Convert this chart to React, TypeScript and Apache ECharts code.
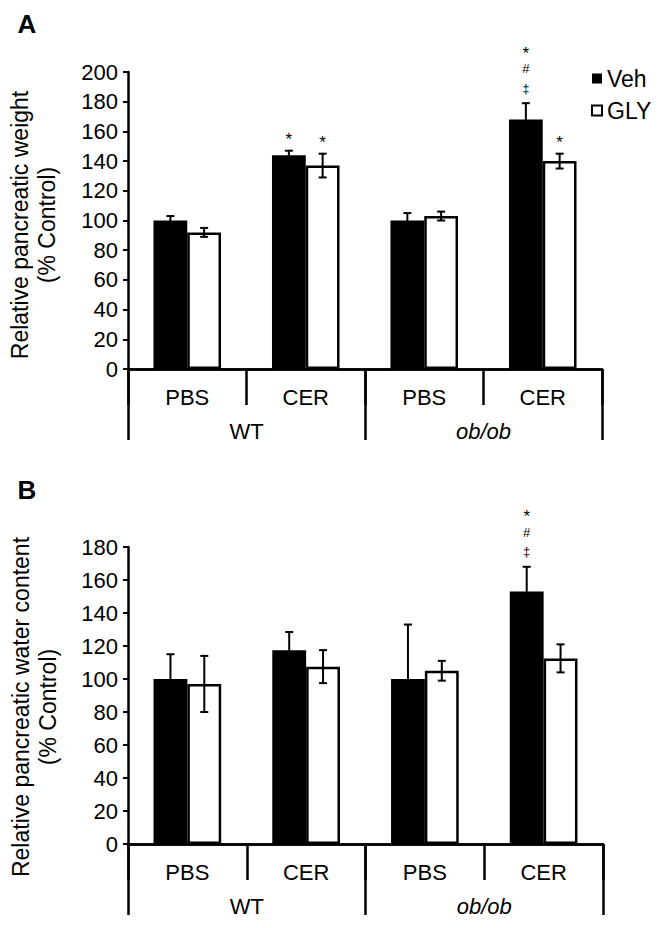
import React, { useEffect, useRef } from 'react';
import * as echarts from 'echarts';

// ---------- data ----------
const categories = ['PBS', 'CER', 'PBS', 'CER'];
const groups = ['WT', 'ob/ob'];

const weightVeh = [100, 144, 100, 168];
const weightVehErr = [3, 3, 5, 11];
const weightGly = [92, 137, 103, 140];
const weightGlyErr = [3, 8, 3, 5];
const weightVehNotes = ['', '*', '', '*\n#\n‡'];
const weightGlyNotes = ['', '*', '', '*'];

const waterVeh = [100, 117.5, 100, 153];
const waterVehErr = [15, 11, 33, 15];
const waterGly = [97, 107.5, 105, 112.5];
const waterGlyErr = [17, 10, 6, 8.5];
const waterVehNotes = ['', '', '', '*\n#\n‡'];
const waterGlyNotes = ['', '', '', ''];

const FONT = '"Liberation Sans", Arial, Helvetica, sans-serif';
const GAP = 0.43;

function errorSeries(gridIdx: number, values: number[], errs: number[], notes: string[], side: number) {
  return {
    type: 'custom',
    xAxisIndex: gridIdx * 2,
    yAxisIndex: gridIdx,
    silent: true,
    z: 5,
    itemStyle: { color: '#000' },
    data: values.map((v, i) => [i, v, errs[i]]),
    renderItem: (params: any, api: any) => {
      const i = api.value(0);
      const v = api.value(1);
      const e = api.value(2);
      const band = api.size([1, 0])[0];
      const barW = (band * (1 - GAP)) / 2;
      const cx = api.coord([i, v])[0] + (side * barW) / 2;
      const yTop = api.coord([i, v + e])[1];
      const yBot = api.coord([i, v - e])[1];
      const cap = 4;
      const ls = { stroke: '#000', lineWidth: 2 };
      const children: any[] = [
        { type: 'line', shape: { x1: cx, y1: yTop, x2: cx, y2: yBot }, style: ls },
        { type: 'line', shape: { x1: cx - cap, y1: yTop, x2: cx + cap, y2: yTop }, style: ls },
        { type: 'line', shape: { x1: cx - cap, y1: yBot, x2: cx + cap, y2: yBot }, style: ls },
      ];
      const note = notes[params.dataIndex];
      if (note) {
        const lines = note.split('\n').reverse();
        lines.forEach((t, k) => {
          const star = t === '*';
          children.push({
            type: 'text',
            x: cx,
            y: yTop - 15 - k * 19.5 + (star ? 4 : 0),
            style: {
              text: t,
              fontSize: star ? 17 : 13,
              fontFamily: FONT,
              fill: '#000',
              textFill: '#000',
              align: 'center',
              verticalAlign: 'middle',
            },
          });
        });
      }
      return { type: 'group', children };
    },
  };
}

function xAxes(gridIdx: number) {
  const line = { show: true, lineStyle: { color: '#000', width: 2.5 } };
  return [
    {
      gridIndex: gridIdx,
      type: 'category',
      position: 'bottom',
      data: categories,
      axisLine: line,
      axisTick: { show: true, interval: 0, length: 36, lineStyle: { color: '#000', width: 2.5 } },
      axisLabel: { interval: 0, margin: 17, fontSize: 22, fontFamily: FONT, color: '#000' },
      splitLine: { show: false },
    },
    {
      gridIndex: gridIdx,
      type: 'category',
      position: 'bottom',
      data: groups,
      axisLine: line,
      axisTick: { show: true, interval: 0, length: 71, lineStyle: { color: '#000', width: 2.5 } },
      axisLabel: {
        interval: 0,
        margin: 51,
        fontSize: 22,
        fontFamily: FONT,
        color: '#000',
        formatter: (v: string) => (v === 'ob/ob' ? '{i|' + v + '}' : v),
        rich: { i: { fontStyle: 'italic', fontSize: 22, fontFamily: FONT, color: '#000' } },
      },
      splitLine: { show: false },
    },
  ];
}

function yAxis(gridIdx: number, max: number) {
  return {
    gridIndex: gridIdx,
    type: 'value',
    min: 0,
    max,
    interval: 20,
    axisLine: { show: true, lineStyle: { color: '#000', width: 2.5 } },
    axisTick: { show: true, length: 5, lineStyle: { color: '#000', width: 2 } },
    axisLabel: { margin: 10, fontSize: 22, fontFamily: FONT, color: '#000' },
    splitLine: { show: false },
  };
}

function barSeries(gridIdx: number, name: string, data: number[], fill: string) {
  return {
    name,
    type: 'bar',
    xAxisIndex: gridIdx * 2,
    yAxisIndex: gridIdx,
    data,
    barGap: '0%',
    barCategoryGap: GAP * 100 + '%',
    itemStyle: { color: fill, borderColor: '#000', borderWidth: 2.5 },
    z: 2,
  };
}

export default function App() {
  const ref = useRef<HTMLDivElement>(null);
  useEffect(() => {
    if (!ref.current) return;
    const chart = echarts.init(ref.current, null, { renderer: 'svg' });
    chart.setOption({
      animation: false,
      backgroundColor: '#fff',
      grid: [
        { left: 128, top: 72, width: 474, height: 297 },
        { left: 128, top: 547, width: 475, height: 297 },
      ],
      xAxis: [...xAxes(0), ...xAxes(1)],
      yAxis: [yAxis(0, 200), yAxis(1, 180)],
      legend: {
        data: [
          { name: 'Veh', icon: 'rect', itemStyle: { color: '#000', borderColor: '#000', borderWidth: 0 } },
          { name: 'GLY', icon: 'rect', itemStyle: { color: '#fff', borderColor: '#000', borderWidth: 2 } },
        ],
        orient: 'vertical',
        left: 591,
        top: 67,
        padding: 0,
        itemWidth: 10,
        itemHeight: 10,
        itemGap: 9,
        selectedMode: false,
        textStyle: { fontSize: 23, fontFamily: FONT, color: '#000' },
      },
      graphic: [
        { type: 'text', x: 27, y: 24, style: { text: 'A', fontSize: 26, fontWeight: 'bold', fontFamily: FONT, fill: '#000', align: 'center', verticalAlign: 'middle' } },
        { type: 'text', x: 27, y: 490, style: { text: 'B', fontSize: 26, fontWeight: 'bold', fontFamily: FONT, fill: '#000', align: 'center', verticalAlign: 'middle' } },
        { type: 'text', x: 33, y: 225, rotation: Math.PI / 2, style: { text: 'Relative pancreatic weight\n(% Control)', fontSize: 23, lineHeight: 27, fontFamily: FONT, fill: '#000', align: 'center', verticalAlign: 'middle' } },
        { type: 'text', x: 34, y: 707, rotation: Math.PI / 2, style: { text: 'Relative pancreatic water content\n(% Control)', fontSize: 23, lineHeight: 27, fontFamily: FONT, fill: '#000', align: 'center', verticalAlign: 'middle' } },
      ],
      series: [
        barSeries(0, 'Veh', weightVeh, '#000'),
        barSeries(0, 'GLY', weightGly, '#fff'),
        barSeries(1, 'Veh', waterVeh, '#000'),
        barSeries(1, 'GLY', waterGly, '#fff'),
        errorSeries(0, weightVeh, weightVehErr, weightVehNotes, -1),
        errorSeries(0, weightGly, weightGlyErr, weightGlyNotes, 1),
        errorSeries(1, waterVeh, waterVehErr, waterVehNotes, -1),
        errorSeries(1, waterGly, waterGlyErr, waterGlyNotes, 1),
      ],
    });
    return () => chart.dispose();
  }, []);
  return <div ref={ref} style={{ position: 'absolute', left: 0, top: 0, width: 664, height: 928 }} />;
}
